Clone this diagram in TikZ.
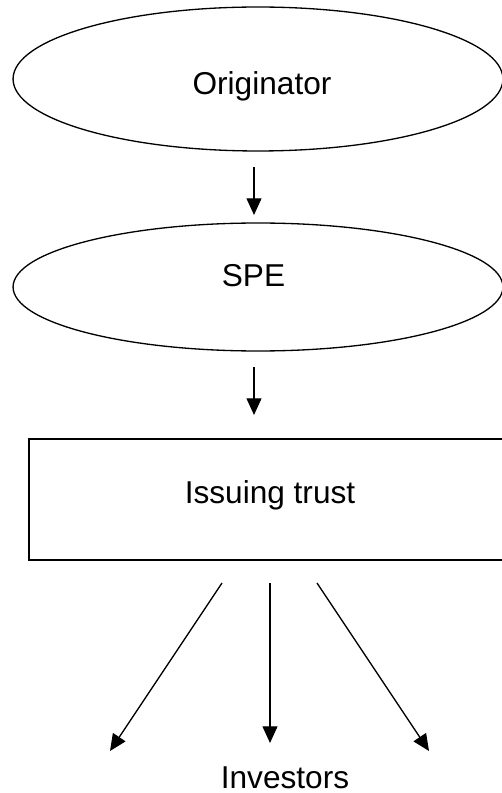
\documentclass[tikz,border=0pt]{standalone}
\usepackage{fontspec}
\setmainfont{Liberation Sans}
\usetikzlibrary{shapes,arrows.meta}

\begin{document}
\begin{tikzpicture}[x=0.02cm,y=-0.02cm,
  blob/.style={draw,ellipse,line width=0.75pt,inner sep=0pt},
  box/.style={draw,rectangle,line width=0.9pt,inner sep=0pt},
  txt/.style={anchor=base,inner sep=0pt,font=\fontsize{18}{21}\selectfont},
  flow/.style={line width=0.75pt,-{Triangle[length=9.5pt,width=8.5pt]}}]
  \useasboundingbox (0,0) rectangle (502,793);
  \clip (0,0) rectangle (502,793);

  %Originator
  \node[blob,minimum width=9.8cm,minimum height=2.88cm] (orig) at (258,79) {};
  \node[txt] (origtxt) at (262,95) {Originator};

  %SPE
  \node[blob,minimum width=9.8cm,minimum height=2.56cm] (spe) at (258,287) {};
  \node[txt] (spetxt) at (253.5,287) {SPE};

  %trust
  \node[box,minimum width=9.64cm,minimum height=2.42cm] (trust) at (270,499.5) {};
  \node[txt] (trusttxt) at (270,503) {Issuing trust};

  %investors
  \node[txt] (inv) at (285,788) {Investors};

  \coordinate (a1s) at (254,167);
  \coordinate (a1e) at (254,215);
  \coordinate (a2s) at (254,367);
  \coordinate (a2e) at (254,415);
  \draw[flow] (a1s) -- (a1e);
  \draw[flow] (a2s) -- (a2e);

  \coordinate (ls) at (222,583);
  \coordinate (le) at (110,751);
  \coordinate (ms) at (270,583);
  \coordinate (me) at (270,743);
  \coordinate (rs) at (317,583);
  \coordinate (re) at (429,751);
  \draw[flow] (ls) -- (le);
  \draw[flow] (ms) -- (me);
  \draw[flow] (rs) -- (re);

\end{tikzpicture}
\end{document}
